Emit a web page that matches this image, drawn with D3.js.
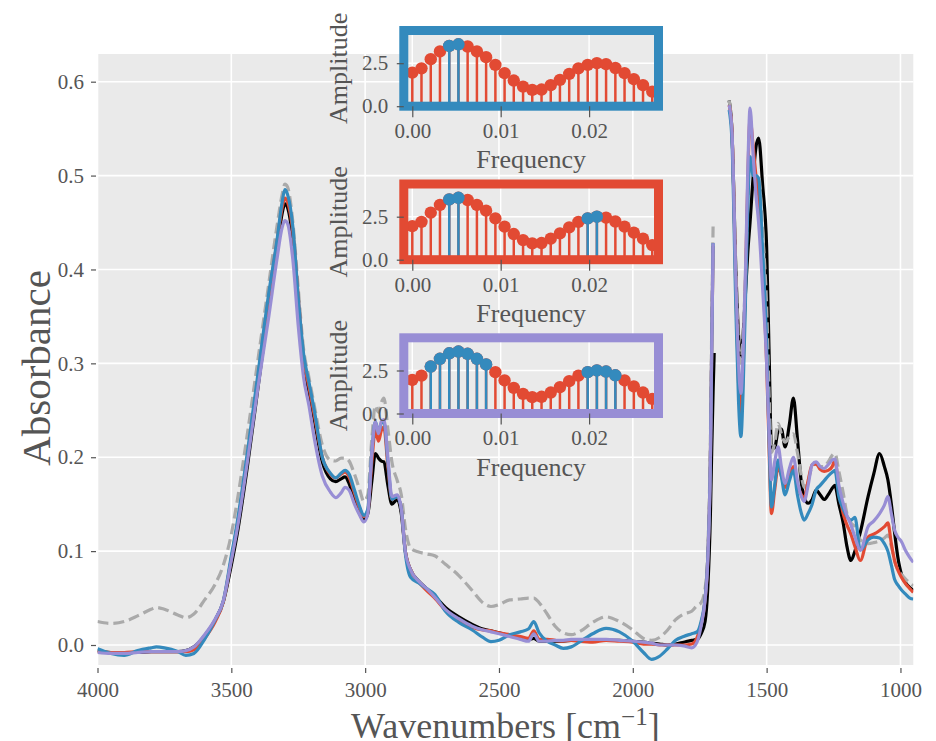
<!DOCTYPE html>
<meta charset="utf-8">
<style>
body { margin: 0; background: #fff; }
svg { display: block; font-family: "Liberation Serif", "Times New Roman", serif; }
</style>
<svg width="936" height="741"></svg>
<script src="https://cdn.jsdelivr.net/npm/d3@7/dist/d3.min.js"></script>
<script>

// wavenumber grid shared by all spectra (null = gap in the recording)
var wavenumbers = [4000,3950,3900,3850,3800,3780,3750,3700,3670,3640,3600,3560,3530,3500,3480,3440,3400,3360,3330,3310,
  3300,3290,3270,3250,3230,3210,3190,3160,3130,3110,3090,3075,3060,3040,3020,3005,2990,2975,2962,2950,
  2940,2930,2915,2900,2880,2865,2850,2830,2800,2770,2740,2700,2650,2600,2560,2530,2500,2460,2420,2390,
  2370,2350,2320,2290,2260,2230,2200,2150,2100,2050,2000,1960,1930,1900,1870,1840,1810,1780,1760,1745,
  1730,1720,1710,1705,1700,1696,1690,1640,1630,1615,1605,1596,1588,1578,1570,1562,1550,1540,1530,1515,
  1500,1490,1482,1470,1457,1445,1431,1415,1400,1385,1370,1360,1345,1330,1315,1300,1285,1270,1255,1245,
  1230,1214,1200,1185,1170,1150,1121,1100,1078,1060,1047,1034,1022,1010,996,980,965,952];

var blackSpec = [-.006,-.008,-.008,-.008,-.007,-.007,-.007,-.007,-.006,-.002,.010,.027,.046,.085,.115,.19,.275,.36,.42,.46,
  .47,.466,.43,.36,.30,.27,.24,.195,.177,.174,.177,.179,.172,.155,.14,.133,.14,.175,.204,.199,
  .196,.195,.17,.15,.155,.14,.10,.08,.068,.06,.052,.040,.030,.022,.017,.015,.013,.010,.008,.006,
  .007,.004,.004,.004,.004,.005,.005,.005,.005,.005,.004,.003,.002,.001,.000,.001,.003,.005,.006,.012,
  .025,.06,.14,.21,.27,.311,null,.58,.55,.40,.33,.307,.33,.38,.42,.45,.50,.53,.54,.49,
  .424,.30,.21,.21,.228,.23,.211,.235,.263,.22,.172,.158,.151,.155,.165,.16,.155,.16,.167,.17,
  .15,.13,.105,.09,.10,.12,.158,.182,.204,.19,.176,.15,.12,.094,.075,.066,.061,.058];

var dashedSpec = [.025,.023,.025,.031,.038,.040,.038,.032,.029,.033,.048,.065,.085,.118,.15,.225,.305,.385,.445,.48,
  .491,.488,.45,.38,.315,.285,.255,.213,.197,.196,.199,.199,.196,.182,.165,.153,.16,.22,.255,.248,
  .258,.263,.23,.195,.175,.16,.125,.103,.099,.097,.095,.086,.074,.058,.045,.041,.043,.048,.049,.05,
  .05,.045,.033,.02,.013,.011,.014,.024,.030,.025,.016,.007,.005,.008,.016,.027,.033,.036,.042,.045,
  .06,.10,.22,.34,.447,null,null,.58,.55,.40,.32,.30,.33,.40,.48,.52,.51,.50,.50,.44,
  .36,.26,.205,.215,.236,.225,.216,.222,.225,.205,.18,.168,.175,.19,.193,.19,.19,.195,.202,.204,
  .185,.162,.14,.13,.126,.112,.108,.109,.111,.114,.117,.105,.09,.08,.075,.07,.066,.063];

var redSpec = [-.007,-.008,-.008,-.007,-.007,-.007,-.007,-.007,-.007,-.005,.007,.025,.046,.092,.124,.2,.285,.37,.428,.466,
  .476,.472,.44,.37,.305,.275,.245,.20,.182,.178,.182,.184,.179,.162,.145,.137,.143,.195,.229,.217,
  .228,.232,.19,.155,.158,.145,.10,.08,.067,.058,.05,.037,.026,.019,.016,.015,.013,.011,.009,.007,
  .015,.006,.006,.005,.004,.005,.004,.003,.005,.004,.003,.001,.001,.000,.000,.000,.000,.001,.008,.022,
  .048,.09,.2,.32,.425,null,null,.575,.55,.38,.28,.245,.29,.40,.50,.56,.53,.50,.48,.40,
  .30,.20,.14,.165,.19,.18,.168,.18,.19,.17,.16,.156,.175,.192,.193,.187,.185,.186,.19,.197,
  .165,.14,.128,.118,.105,.09,.115,.118,.122,.126,.13,.108,.09,.08,.072,.065,.06,.056];

var blueSpec = [-.004,-.009,-.011,-.006,-.003,-.002,-.003,-.007,-.011,-.009,.006,.027,.047,.095,.127,.205,.29,.375,.43,.472,
  .485,.48,.445,.37,.31,.28,.25,.20,.183,.178,.183,.186,.182,.165,.147,.138,.145,.205,.238,.227,
  .236,.238,.195,.155,.158,.145,.098,.072,.066,.06,.054,.036,.024,.016,.008,.0035,.005,.011,.014,.017,
  .025,.013,.004,.0,-.0035,-.002,.003,.012,.0178,.014,.004,-.008,-.0153,-.012,-.004,.005,.009,.012,.014,.025,
  .05,.092,.2,.32,.428,null,null,.57,.54,.36,.26,.222,.27,.38,.47,.52,.50,.50,.497,.42,
  .32,.21,.147,.17,.197,.18,.16,.175,.186,.16,.14,.133,.14,.15,.165,.17,.175,.18,.184,.186,
  .158,.145,.137,.133,.136,.101,.112,.115,.114,.108,.10,.085,.07,.064,.0586,.054,.05,.049];

var purpleSpec = [-.008,-.009,-.009,-.008,-.007,-.007,-.007,-.007,-.006,-.002,.011,.028,.047,.09,.12,.195,.275,.35,.41,.445,
  .452,.449,.41,.34,.285,.255,.22,.18,.163,.157,.162,.168,.165,.15,.138,.131,.14,.205,.238,.225,
  .238,.240,.2,.158,.16,.145,.10,.08,.068,.06,.051,.038,.028,.02,.016,.014,.012,.009,.006,.004,
  .012,.004,.004,.005,.005,.006,.006,.006,.006,.005,.004,.003,.002,.000,.000,.000,-.001,-.003,.003,.02,
  .048,.09,.2,.32,.428,null,null,.575,.55,.39,.30,.268,.31,.41,.51,.572,.52,.48,.45,.38,
  .30,.22,.176,.195,.211,.19,.172,.188,.2,.175,.158,.153,.17,.192,.195,.19,.188,.192,.197,.198,
  .17,.151,.138,.128,.115,.101,.126,.132,.14,.149,.158,.14,.1225,.115,.11,.1,.093,.088];

var seriesList = [
  { values: blackSpec, color: "#000000", dash: null },
  { values: dashedSpec, color: "#aaaaaa", dash: "11,5" },
  { values: redSpec, color: "#E24A33", dash: null },
  { values: blueSpec, color: "#348ABD", dash: null },
  { values: purpleSpec, color: "#988ED5", dash: null }
];

var xTicks = [4000, 3500, 3000, 2500, 2000, 1500, 1000];
var yTicks = [0, 0.1, 0.2, 0.3, 0.4, 0.5, 0.6];

// inset stem plots (same amplitude spectrum, different selected bins)
var freqs = [0, 0.00104, 0.00209, 0.00313, 0.00418, 0.00522, 0.00626, 0.00731, 0.00835, 0.00940,
  0.01044, 0.01148, 0.01253, 0.01357, 0.01462, 0.01566, 0.01670, 0.01775, 0.01879, 0.01984,
  0.02088, 0.02192, 0.02297, 0.02401, 0.02506, 0.02610, 0.02714];
var amps = [1.95, 2.2, 2.73, 3.18, 3.5, 3.6, 3.47, 3.18, 2.85, 2.4, 1.92, 1.49, 1.14, 0.95, 0.97,
  1.22, 1.53, 1.88, 2.2, 2.4, 2.5, 2.44, 2.22, 1.92, 1.57, 1.22, 0.85];
var insetSelected = [[4, 5], [4, 5, 19, 20], [2, 3, 4, 5, 6, 7, 8, 19, 20, 21, 22]];
var insetFrame = ["#348ABD", "#E24A33", "#988ED5"];
var insetXTicks = [0, 0.01, 0.02];
var insetYTicks = [0, 2.5];

var svg = d3.select("svg");
var bg = "#EAEAEA", textColor = "#555555";

var plotL = 97.5, plotR = 913.3, plotT = 54, plotB = 665;

var x = d3.scaleLinear().domain([4000, 952]).range([plotL, plotR]);
var y = d3.scaleLinear().domain([-0.0213, 0.6295]).range([plotB, plotT]);

svg.append("rect")
    .attr("x", plotL).attr("y", plotT)
    .attr("width", plotR - plotL).attr("height", plotB - plotT)
    .attr("fill", bg);

var grid = svg.append("g").attr("stroke", "#fff").attr("stroke-width", 1.6);
grid.selectAll(".vx").data(xTicks).enter().append("line")
    .attr("x1", function(d) { return x(d); }).attr("x2", function(d) { return x(d); })
    .attr("y1", plotT).attr("y2", plotB);
grid.selectAll(".hy").data(yTicks).enter().append("line")
    .attr("y1", function(d) { return y(d); }).attr("y2", function(d) { return y(d); })
    .attr("x1", plotL).attr("x2", plotR);

svg.append("clipPath").attr("id", "plotclip").append("rect")
    .attr("x", plotL).attr("y", plotT).attr("width", plotR - plotL).attr("height", plotB - plotT);

var line = d3.line()
    .defined(function(d) { return d[1] != null; })
    .x(function(d) { return x(d[0]); })
    .y(function(d) { return y(d[1]); })
    .curve(d3.curveMonotoneX);

var lines = svg.append("g").attr("clip-path", "url(#plotclip)");
seriesList.forEach(function(s) {
    var pts = wavenumbers.map(function(w, i) { return [w, s.values[i]]; });
    lines.append("path")
        .attr("d", line(pts))
        .attr("fill", "none")
        .attr("stroke", s.color)
        .attr("stroke-width", 3.2)
        .attr("stroke-linejoin", "round")
        .attr("stroke-dasharray", s.dash);
});

function styleAxis(g, size) {
    g.attr("font-family", null).attr("font-size", null);
    g.select(".domain").remove();
    g.selectAll(".tick line").attr("stroke", textColor).attr("stroke-width", 1.2);
    g.selectAll(".tick text").attr("fill", textColor)
        .style("font-size", size + "px");
}

svg.append("g")
    .attr("transform", "translate(0,668)")
    .call(d3.axisBottom(x).tickValues(xTicks).tickSize(5).tickPadding(9).tickFormat(d3.format("d")))
    .call(styleAxis, 21);

svg.append("g")
    .attr("transform", "translate(96,0)")
    .call(d3.axisLeft(y).tickValues(yTicks).tickSize(5).tickPadding(7).tickFormat(d3.format(".1f")))
    .call(styleAxis, 21);

svg.append("text")
    .attr("transform", "translate(50,368) rotate(-90)")
    .attr("text-anchor", "middle")
    .attr("fill", textColor)
    .style("font-size", "41px")
    .text("Absorbance");

var xl = svg.append("text")
    .attr("x", (plotL + plotR) / 2).attr("y", 738)
    .attr("text-anchor", "middle")
    .attr("fill", textColor)
    .style("font-size", "36px");
xl.append("tspan").text("Wavenumbers [cm");
xl.append("tspan").attr("dy", -13).style("font-size", "25px").text("\u22121");
xl.append("tspan").attr("dy", 13).text("]");

// insets
var insetL = 403.8, insetR = 658.5, insetH = 75.7;
var insetTops = [30.5, 184, 337.8];

var fx = d3.scaleLinear().domain([-0.00096, 0.02785]).range([insetL, insetR]);

insetTops.forEach(function(t, k) {
    var fy = d3.scaleLinear().domain([0, 4.4]).range([t + insetH, t]);
    var g = svg.append("g");

    g.append("rect")
        .attr("x", insetL).attr("y", t)
        .attr("width", insetR - insetL).attr("height", insetH)
        .attr("fill", bg);

    var ig = g.append("g").attr("stroke", "#fff").attr("stroke-width", 1.4);
    ig.selectAll(".v").data(insetXTicks).enter().append("line")
        .attr("x1", function(d) { return fx(d); }).attr("x2", function(d) { return fx(d); })
        .attr("y1", t).attr("y2", t + insetH);
    ig.selectAll(".h").data(insetYTicks).enter().append("line")
        .attr("y1", function(d) { return fy(d); }).attr("y2", function(d) { return fy(d); })
        .attr("x1", insetL).attr("x2", insetR);

    var idx = freqs.map(function(f, i) { return i; });
    var groups = [
        { ids: idx, color: "#E24A33" },
        { ids: insetSelected[k], color: "#348ABD" }
    ];
    groups.forEach(function(grp) {
        g.append("g").selectAll("line").data(grp.ids).enter().append("line")
            .attr("x1", function(i) { return fx(freqs[i]); })
            .attr("x2", function(i) { return fx(freqs[i]); })
            .attr("y1", fy(0))
            .attr("y2", function(i) { return fy(amps[i]); })
            .attr("stroke", grp.color)
            .attr("stroke-width", 2.5);
        g.append("g").selectAll("circle").data(grp.ids).enter().append("circle")
            .attr("cx", function(i) { return fx(freqs[i]); })
            .attr("cy", function(i) { return fy(amps[i]); })
            .attr("r", 6.2)
            .attr("fill", grp.color);
    });

    g.append("rect")
        .attr("x", insetL).attr("y", t)
        .attr("width", insetR - insetL).attr("height", insetH)
        .attr("fill", "none")
        .attr("stroke", insetFrame[k])
        .attr("stroke-width", 9);

    g.append("g")
        .attr("transform", "translate(0," + (t + insetH) + ")")
        .call(d3.axisBottom(fx).tickValues(insetXTicks).tickSize(11).tickPadding(6).tickFormat(d3.format(".2f")))
        .call(styleAxis, 21);

    g.append("g")
        .attr("transform", "translate(" + insetL + ",0)")
        .call(d3.axisLeft(fy).tickValues(insetYTicks).tickSize(7).tickPadding(8.5).tickFormat(d3.format(".1f")))
        .call(styleAxis, 21);

    g.append("text")
        .attr("x", (insetL + insetR) / 2).attr("y", t + insetH + 62)
        .attr("text-anchor", "middle")
        .attr("fill", textColor)
        .style("font-size", "26px")
        .text("Frequency");

    g.append("text")
        .attr("transform", "translate(347," + (t + insetH / 2) + ") rotate(-90)")
        .attr("text-anchor", "middle")
        .attr("fill", textColor)
        .style("font-size", "26px")
        .text("Amplitude");
});

</script>
